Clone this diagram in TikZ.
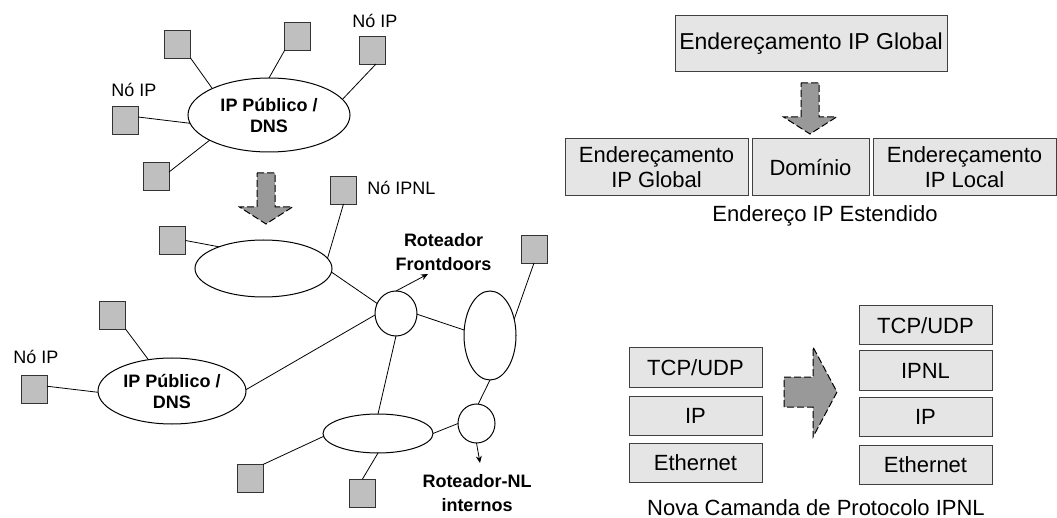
\documentclass[tikz,border=0pt]{standalone}
\usepackage{fontspec}
\setmainfont{Liberation Sans}
\usetikzlibrary{arrows.meta,shapes.geometric}

\tikzset{
  sq/.style={draw=black!80, fill=black!25, line width=0.9pt, minimum width=26pt,
    minimum height=28pt, inner sep=0pt, outer sep=0pt},
  net/.style={draw, ellipse, line width=1pt, inner sep=0pt, outer sep=0pt,
    align=center, font=\bfseries\fontsize{18}{21}\selectfont},
  link/.style={line width=0.8pt},
  lbl/.style={inner sep=0pt, font=\fontsize{18}{21}\selectfont},
  blbl/.style={inner sep=0pt, align=center, font=\bfseries\fontsize{18}{24}\selectfont},
  layer/.style={draw=black!75, fill=black!10, line width=1pt, inner sep=0pt, outer sep=0pt,
    minimum width=133pt, minimum height=39pt, align=center,
    font=\fontsize{22}{25}\selectfont},
  caption/.style={inner sep=0pt, font=\fontsize{22}{25}\selectfont},
  bigarr/.style={draw, dash pattern=on 7pt off 3pt, fill=black!40, line width=1pt},
  downarr/.pic={\path[bigarr] (-9,-51) -- (9,-51) -- (9,-17) -- (26.5,-17) -- (0,0)
      -- (-26.5,-17) -- (-9,-17) -- cycle;},
  rightarr/.pic={\path[bigarr] (-53,-15) -- (-24,-15) -- (-24,-45) -- (0,0)
      -- (-24,45) -- (-24,15) -- (-53,15) -- cycle;}
}

\begin{document}
\begin{tikzpicture}[x=1pt,y=-1pt]
\useasboundingbox (0,0) rectangle (1057,518);

% ---- public IP network ----
\node[net, minimum width=162pt, minimum height=74pt] (e1) at (269,115) {IP Público /\\DNS};
\node[sq] (s1) at (177.5,44) {};
\node[sq] (s2) at (297,36) {};
\node[sq] (s3) at (372.5,50) {};
\node[sq] (s4) at (125,120) {};
\node[sq] (s5) at (156,176) {};
\node[lbl, anchor=base] (l1) at (375,28) {Nó IP};
\node[lbl, anchor=base] (l2) at (134,97) {Nó IP};
\draw[link] (s1.south east) -- (e1.155);
\draw[link] (s2.229) -- (e1.north);
\draw[link] (s3.284) -- (e1.12);
\draw[link] (s4.13) -- (e1.186);
\draw[link] (s5.17) -- (e1.203);

\pic at (266,224) {downarr};

% ---- IPNL internetwork ----
\node[net, minimum width=137pt, minimum height=57pt] (e2) at (263.5,268.5) {};
\node[net, minimum width=148pt, minimum height=66pt] (e3) at (172,391) {IP Público /\\DNS};
\node[net, minimum width=42pt, minimum height=45pt] (r1) at (396,313.5) {};
\node[net, minimum width=52pt, minimum height=89pt] (e5) at (490,335.5) {};
\node[net, minimum width=37pt, minimum height=39pt] (r2) at (476.5,423.5) {};
\node[net, minimum width=110pt, minimum height=39pt] (e4) at (378,433.5) {};

\node[sq] (s11) at (343.5,190) {};
\node[sq] (s12) at (172.5,240.5) {};
\node[sq] (s10) at (534,249) {};
\node[sq] (s6) at (112.5,315) {};
\node[sq] (s7) at (34,389) {};
\node[sq] (s8) at (250,478.5) {};
\node[sq] (s9) at (362.5,493) {};

\node[lbl, anchor=base] (l3) at (36,363) {Nó IP};
\node[lbl, anchor=base] (l4) at (401.5,195) {Nó IPNL};
\node[blbl] (lfd) at (443.5,252.5) {Roteador\\Frontdoors};
\node[blbl] (lnl) at (477,493.5) {Roteador-NL\\internos};

\draw[link] (s12.east) -- (e2.154);
\draw[link] (s11.south) -- (e2.9);
\draw[link] (e2.357) -- (r1.152);
\draw[link] (s6.south east) -- (e3.127);
\draw[link] (s7.12) -- (e3.181);
\draw[link] (e3.1) -- (r1.184);
\draw[link] (r1.358) -- (e5.168);
\draw[link] (r1.south) -- (e4.north);
\draw[link] (s10.south) -- (e5.34);
\draw[link] (e5.south) -- (r2.85);
\draw[link] (r2.west) -- (e4.east);
\draw[link] (e4.south) -- (s9.north);
\draw[link] (s8.north east) -- (e4.183);

\coordinate (fd) at (428,274);
\coordinate (nl) at (480,463);
\draw[link, -{Stealth[length=7pt,width=6pt]}] (r1.north) -- (fd);
\draw[link, -{Stealth[length=7pt,width=6pt]}] (r2.south) -- (nl);

% ---- extended IP address ----
\node[layer, minimum width=272pt, minimum height=56pt, font=\fontsize{23}{25}\selectfont] (glob) at (811,44) {Endereçamento IP Global};
\pic at (810,134) {downarr};
\node[layer, minimum width=183pt, minimum height=57pt] (b1) at (656.5,167.5) {Endereçamento\\IP Global};
\node[layer, minimum width=117pt, minimum height=57pt] (b2) at (810.5,167.5) {Domínio};
\node[layer, minimum width=183pt, minimum height=57pt] (b3) at (964.5,167.5) {Endereçamento\\IP Local};
\node[caption, anchor=base] (c1) at (825,222) {Endereço IP Estendido};

% ---- protocol stacks ----
\node[layer] (a1) at (695.5,367.5) {TCP/UDP};
\node[layer] (a2) at (695.5,415.5) {IP};
\node[layer] (a3) at (695.5,463) {Ethernet};
\pic at (837,392) {rightarr};
\node[layer] (n1) at (925.5,325.5) {TCP/UDP};
\node[layer] (n2) at (925.5,370.5) {IPNL};
\node[layer] (n3) at (925.5,416.5) {IP};
\node[layer] (n4) at (925.5,464.5) {Ethernet};
\node[caption, anchor=base] (c2) at (816,515) {Nova Camanda de Protocolo IPNL};
\end{tikzpicture}
\end{document}
